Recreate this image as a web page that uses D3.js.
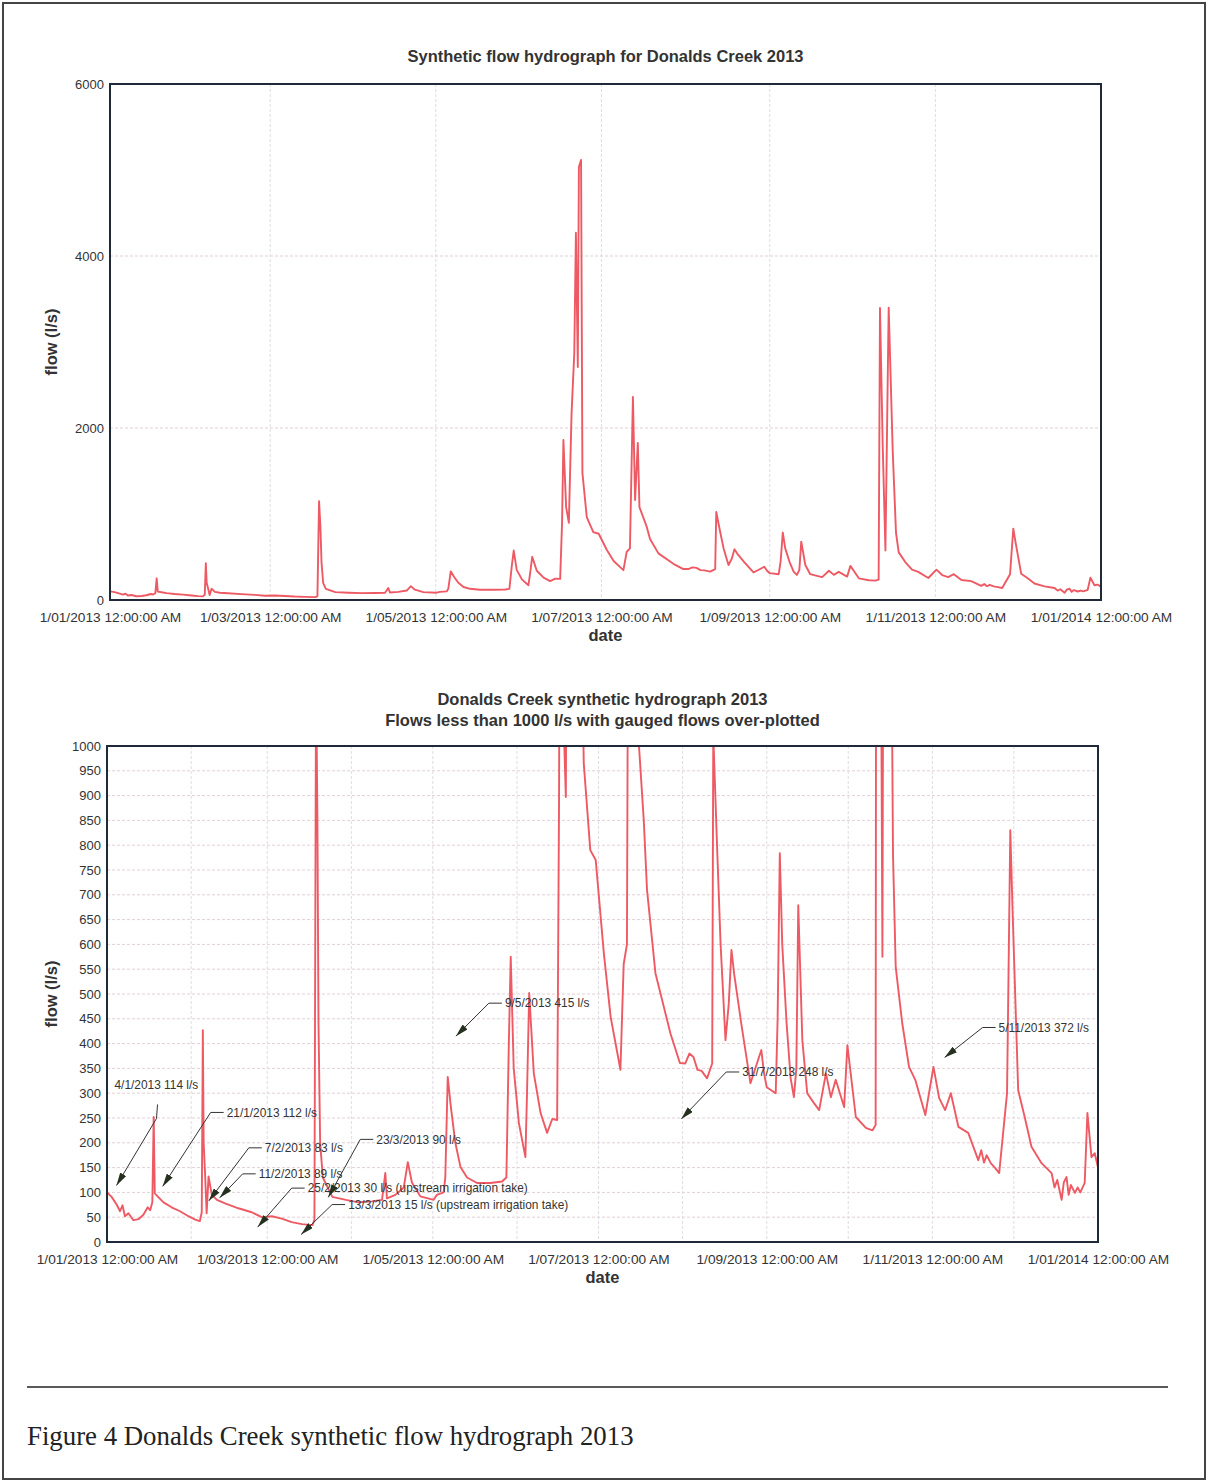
<!DOCTYPE html>
<html>
<head>
<meta charset="utf-8">
<script src="https://cdn.jsdelivr.net/npm/d3@7"></script>
<style>
  body { margin: 0; background: #fff; }
  svg { display: block; font-family: "Liberation Sans", Arial, sans-serif; }
</style>
</head>
<body>
<script>
// hydrograph series: days since 1/01/2013 00:00 and flow in l/s
const flowDays = [
  0, 1.7, 3.6, 4.8, 5.7, 6.6, 7.9, 9.7, 11.6, 13.4, 15.0, 15.9, 16.7, 17.2, 17.6, 19.0, 20.8, 23.8, 26.9, 30.0,
  32.5, 34.2, 34.9, 35.3, 35.6, 36.1, 36.7, 37.4, 38.6, 40.5, 43.5, 48.4, 53.3, 57.0, 60.7, 64.4, 68.0, 71.8, 75.7, 76.4,
  77.0, 77.5, 77.9, 78.5, 79.5, 83.0, 88.0, 92.7, 97.6, 101.3, 102.5, 103.1, 106.2, 109.3, 110.8, 112.3, 115.4, 120.3, 121.5, 124.0,
  124.6, 125.5, 126.7, 128.3, 130.2, 132.6, 136.3, 141.2, 145.5, 147.1, 148.0, 148.7, 149.8, 151.7, 154.1, 154.7, 155.5, 157.2, 159.7, 162.1,
  164.0, 165.8, 166.5, 167.0, 168.0, 169.0, 170.0, 171.0, 171.6, 172.3, 172.7, 173.5, 174.0, 175.6, 178.0, 180.0, 183.0, 185.5, 188.0, 189.1,
  190.3, 191.5, 192.6, 193.4, 194.4, 195.0, 197.7, 198.9, 202.0, 207.5, 211.0, 213.0, 214.5, 216.0, 217.5, 219.0, 221.0, 222.9, 223.3, 224.7,
  226.0, 227.8, 229.0, 230.0, 231.0, 233.6, 237.0, 241.0, 242.0, 243.0, 246.3, 247.0, 247.8, 248.7, 250.3, 251.8, 253.0, 253.9, 254.6, 256.1,
  257.9, 260.4, 262.3, 264.8, 266.6, 268.4, 271.5, 272.7, 275.8, 279.5, 281.9, 283.1, 283.6, 284.6, 285.6, 286.8, 288.3, 289.5, 290.5, 292.9,
  295.4, 297.7, 301.4, 304.4, 306.5, 308.7, 310.8, 313.6, 317.2, 320.9, 322.0, 323.0, 324.0, 325.5, 327.0, 328.6, 331.5, 332.7, 333.5, 335.6,
  338.0, 340.5, 344.2, 347.9, 349.0, 350.0, 351.6, 352.4, 353.4, 354.2, 355.0, 356.5, 357.5, 358.5, 360.1, 361.1, 362.6, 363.8, 365
];
const flowLps = [
  100, 91, 75, 62, 74, 52, 58, 44, 46, 55, 70, 64, 80, 252, 98, 90, 80, 70, 62, 52,
  45, 42, 60, 427, 200, 140, 58, 132, 95, 85, 78, 68, 60, 50, 52, 47, 40, 36, 34, 45,
  1150, 850, 441, 200, 130, 91, 85, 80, 82, 85, 139, 88, 95, 110, 161, 120, 92, 85, 95, 100,
  130, 333, 270, 200, 151, 130, 119, 119, 122, 130, 400, 575, 350, 240, 171, 300, 502, 340, 260, 220,
  248, 246, 895, 1860, 1080, 897, 2170, 2870, 4270, 2710, 5035, 5116, 1477, 965, 790, 770, 582, 454, 380, 347,
  560, 600, 2360, 1163, 1826, 1080, 850, 710, 542, 421, 361, 360, 380, 373, 347, 345, 330, 360, 1023, 797,
  600, 407, 480, 589, 540, 441, 320, 387, 340, 312, 300, 450, 784, 600, 441, 330, 292, 350, 679, 407,
  300, 280, 266, 340, 292, 327, 272, 397, 252, 230, 225, 236, 3395, 1800, 575, 3400, 1720, 780, 554, 441,
  353, 327, 256, 353, 290, 266, 300, 232, 220, 165, 185, 160, 175, 159, 150, 139, 300, 830, 675, 306,
  252, 192, 159, 139, 110, 125, 85, 120, 131, 95, 115, 99, 110, 100, 119, 260, 171, 179, 150
];

// gauged flows over-plotted on the lower chart
const gaugeDates = ["4/1/2013", "21/1/2013", "7/2/2013", "11/2/2013", "25/2/2013", "13/3/2013", "23/3/2013", "9/5/2013", "31/7/2013", "5/11/2013"];
const gaugeFlows = [114, 112, 83, 89, 30, 15, 90, 415, 248, 372];
const gaugeNotes = ["", "", "", "", " (upstream irrigation take)", " (upstream irrigation take)", "", "", "", ""];

// callout elbow offsets from the arrow tip (px)
const calloutOffsets = [[40, -67], [48, -74], [40, -53], [23, -24], [34, -39], [31, -30], [32, -58], [33, -33], [45, -47], [38, -30]];

const W = 1209, H = 1483;
const lineColor = "#ee5a64";
const parseDay = d3.timeParse("%d/%m/%Y");
const start = new Date(2013, 0, 1);
const series = flowDays.map((d, i) => ({date: new Date(+start + d * 864e5), flow: flowLps[i]}));

const svg = d3.select("body").append("svg")
  .attr("width", W)
  .attr("height", H);

svg.append("rect").attr("width", W).attr("height", H).attr("fill", "#fff");

// scanned page frame
svg.append("rect")
  .attr("x", 3).attr("y", 3)
  .attr("width", 1202).attr("height", 1476)
  .attr("fill", "none")
  .attr("stroke", "#444")
  .attr("stroke-width", 2);

svg.append("defs").append("marker")
  .attr("id", "arrow")
  .attr("markerUnits", "userSpaceOnUse")
  .attr("markerWidth", 13).attr("markerHeight", 7)
  .attr("refX", 13).attr("refY", 3.5)
  .attr("orient", "auto")
  .append("path")
  .attr("d", "M0,0 L13,3.5 L0,7 Z")
  .attr("fill", "#25301f");

function drawChart(opt) {
  const g = svg.append("g").attr("transform", `translate(${opt.left},${opt.top})`);
  const w = opt.width, h = opt.height;

  const x = d3.scaleTime()
    .domain([start, new Date(2014, 0, 1)])
    .range([0, w]);
  const y = d3.scaleLinear()
    .domain([0, opt.ymax])
    .range([h, 0]);

  // grid lines
  g.append("g")
    .selectAll("line")
    .data(opt.yTicks.filter(t => t > 0 && t < opt.ymax))
    .join("line")
    .attr("x1", 0).attr("x2", w)
    .attr("y1", d => y(d)).attr("y2", d => y(d))
    .attr("stroke", "#e2cfd5")
    .attr("stroke-dasharray", "3,2");

  g.append("g")
    .selectAll("line")
    .data(x.ticks(opt.gridEvery).filter(t => +t > +start && +t < +x.domain()[1]))
    .join("line")
    .attr("x1", d => x(d)).attr("x2", d => x(d))
    .attr("y1", 0).attr("y2", h)
    .attr("stroke", "#e2dbe4")
    .attr("stroke-dasharray", "3,2");

  // axes
  g.append("g")
    .attr("transform", `translate(0,${h})`)
    .call(d3.axisBottom(x)
      .tickValues(d3.timeMonth.every(2).range(start, new Date(2014, 0, 2)))
      .tickFormat(d3.timeFormat("%-d/%m/%Y %I:%M:%S %p"))
      .tickSize(0).tickPadding(12))
    .call(a => a.select(".domain").remove())
    .selectAll("text")
    .style("font-size", "13.7px")
    .style("font-family", "'Liberation Sans', Arial, sans-serif")
    .attr("fill", "#333");

  g.append("g")
    .call(d3.axisLeft(y).tickValues(opt.yTicks).tickFormat(d3.format("d")).tickSize(0).tickPadding(6))
    .call(a => a.select(".domain").remove())
    .selectAll("text")
    .style("font-size", "13px")
    .style("font-family", "'Liberation Sans', Arial, sans-serif")
    .attr("fill", "#333");

  // flow line, clipped to the plot box
  const clipId = "clip" + opt.top;
  g.append("clipPath").attr("id", clipId)
    .append("rect").attr("width", w).attr("height", h);

  const flowLine = d3.line()
    .x(d => x(d.date))
    .y(d => y(d.flow));

  g.append("path")
    .datum(series)
    .attr("clip-path", `url(#${clipId})`)
    .attr("fill", "none")
    .attr("stroke", lineColor)
    .attr("stroke-width", 1.9)
    .attr("stroke-linejoin", "round")
    .attr("d", flowLine);

  g.append("rect")
    .attr("width", w).attr("height", h)
    .attr("fill", "none")
    .attr("stroke", "#1f2937")
    .attr("stroke-width", 2);

  // titles
  opt.titles.forEach((t, i) => {
    g.append("text")
      .attr("x", w / 2)
      .attr("y", opt.titleY + i * 21)
      .attr("text-anchor", "middle")
      .style("font-size", "16.5px")
      .style("font-weight", "bold")
      .attr("fill", "#333")
      .text(t);
  });

  g.append("text")
    .attr("x", w / 2)
    .attr("y", h + 41)
    .attr("text-anchor", "middle")
    .style("font-size", "16.5px")
    .style("font-weight", "bold")
    .attr("fill", "#333")
    .text("date");

  g.append("text")
    .attr("transform", "rotate(-90)")
    .attr("x", -h / 2)
    .attr("y", 57 - opt.left)
    .attr("text-anchor", "middle")
    .style("font-size", "16.5px")
    .style("font-weight", "bold")
    .attr("fill", "#333")
    .text("flow (l/s)");

  return {g, x, y};
}

drawChart({
  left: 110, top: 84, width: 991, height: 516,
  ymax: 6000, yTicks: [0, 2000, 4000, 6000],
  gridEvery: d3.timeMonth.every(2),
  titles: ["Synthetic flow hydrograph for Donalds Creek 2013"], titleY: -22
});

const low = drawChart({
  left: 107, top: 746, width: 991, height: 496,
  ymax: 1000, yTicks: d3.range(0, 1001, 50),
  gridEvery: d3.timeMonth.every(1),
  titles: ["Donalds Creek synthetic hydrograph 2013", "Flows less than 1000 l/s with gauged flows over-plotted"], titleY: -41
});

// gauged flow callouts
gaugeDates.forEach((ds, i) => {
  const tx = low.x(new Date(+parseDay(ds) + 12 * 36e5));
  const ty = low.y(gaugeFlows[i]);
  const ex = tx + calloutOffsets[i][0], ey = ty + calloutOffsets[i][1];
  const label = `${ds} ${gaugeFlows[i]} l/s${gaugeNotes[i]}`;
  const c = low.g.append("g");

  c.append("line")
    .attr("x1", ex).attr("y1", ey)
    .attr("x2", tx).attr("y2", ty)
    .attr("stroke", "#333").attr("stroke-width", 1)
    .attr("marker-end", "url(#arrow)");

  if (i === 0) {
    // first label sits above its leader
    c.append("line")
      .attr("x1", ex).attr("y1", ey)
      .attr("x2", ex + 1).attr("y2", ey - 14)
      .attr("stroke", "#333");
    c.append("text")
      .attr("x", tx - 2).attr("y", ey - 29)
      .style("font-size", "11.9px").attr("fill", "#333")
      .text(label);
  } else {
    c.append("line")
      .attr("x1", ex).attr("y1", ey)
      .attr("x2", ex + 13).attr("y2", ey)
      .attr("stroke", "#333");
    c.append("text")
      .attr("x", ex + 16).attr("y", ey)
      .attr("dy", "0.35em")
      .style("font-size", "11.9px").attr("fill", "#333")
      .text(label);
  }
});

// caption
svg.append("line")
  .attr("x1", 27).attr("x2", 1168)
  .attr("y1", 1387).attr("y2", 1387)
  .attr("stroke", "#222").attr("stroke-width", 1.5);

svg.append("text")
  .attr("x", 27).attr("y", 1445)
  .style("font-family", "'Liberation Serif', 'Times New Roman', serif")
  .style("font-size", "26.8px")
  .attr("fill", "#222")
  .text("Figure 4 Donalds Creek synthetic flow hydrograph 2013");
</script>
</body>
</html>
